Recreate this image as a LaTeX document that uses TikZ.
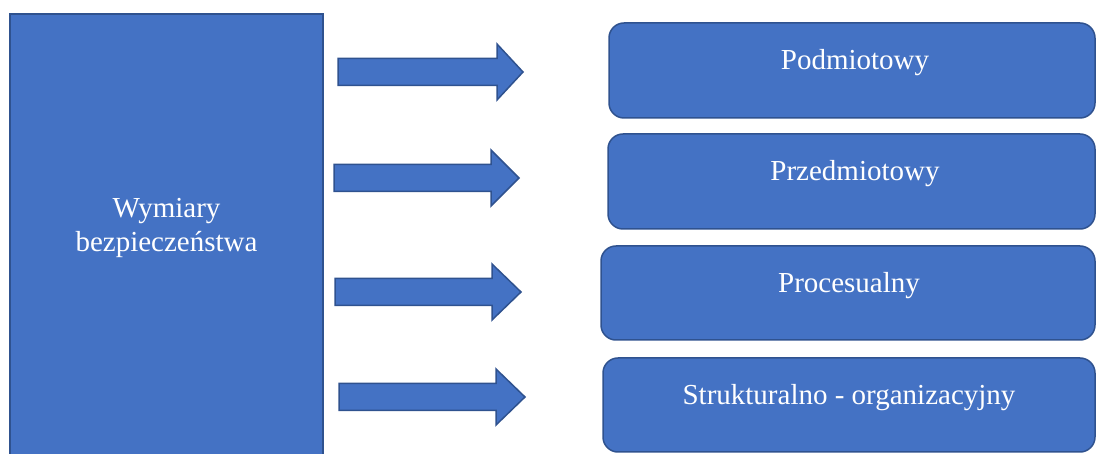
\documentclass[tikz,border=0pt]{standalone}
\usepackage{fontspec}
\setmainfont{Liberation Serif}
\definecolor{boxfill}{HTML}{4472C4}
\definecolor{boxline}{HTML}{2F528F}
\tikzset{
  shapestyle/.style={fill=boxfill, draw=boxline, line width=1.5pt, line join=miter},
  labeltext/.style={text=white, font=\fontsize{29}{34}\selectfont, align=center, inner sep=0pt},
  % block arrow: #1 shaft left x, #2 head start x, #3 tip x, #4 centre y
  pics/blockarrow/.style args={#1/#2/#3/#4}{code={
    \path[shapestyle] (#1,#4-13.5) -- (#2,#4-13.5) -- (#2,#4-28) -- (#3,#4)
      -- (#2,#4+28) -- (#2,#4+13.5) -- (#1,#4+13.5) -- cycle;
  }}
}
\begin{document}
\begin{tikzpicture}[x=1pt, y=-1pt]
  \useasboundingbox (0,0) rectangle (1096,454);
  \clip (0,0) rectangle (1096,454);

  % left column
  \path[shapestyle] (10,14) rectangle (323,470);
  \node[labeltext] (dims) at (166.5,228) {Wymiary\\bezpieczeństwa};

  % arrows
  \pic {blockarrow=338/497/523/72};
  \pic {blockarrow=334/491/519/178};
  \pic {blockarrow=335/492/521/292};
  \pic {blockarrow=339/496/525/397};

  % right column boxes
  \path[shapestyle, rounded corners=15pt] (609,23) rectangle (1095,118);
  \path[shapestyle, rounded corners=15pt] (608,134) rectangle (1095,229);
  \path[shapestyle, rounded corners=15pt] (601,246) rectangle (1095,340);
  \path[shapestyle, rounded corners=15pt] (603,358) rectangle (1095,452);

  \node[labeltext, anchor=base] (b1) at (855,70) {Podmiotowy};
  \node[labeltext, anchor=base] (b2) at (855,181) {Przedmiotowy};
  \node[labeltext, anchor=base] (b3) at (849,293) {Procesualny};
  \node[labeltext, anchor=base] (b4) at (849,405) {Strukturalno - organizacyjny};
\end{tikzpicture}
\end{document}
